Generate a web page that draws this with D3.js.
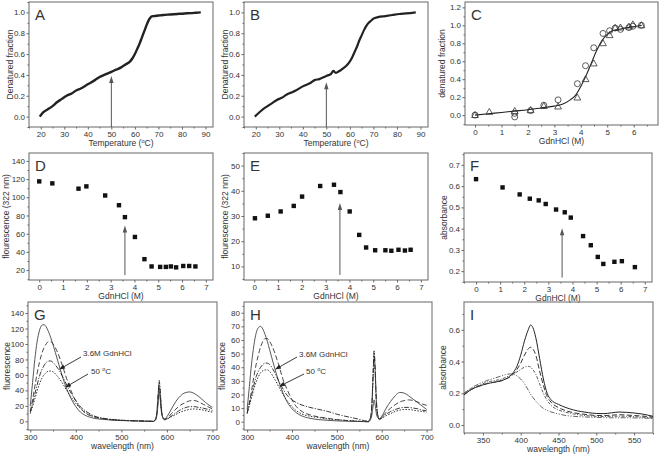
<!DOCTYPE html>
<html><head><meta charset="utf-8">
<script src="https://cdn.jsdelivr.net/npm/d3@7"></script>
<style>
body{margin:0;background:#fff}
svg{display:block}
text{font-family:"Liberation Sans",Arial,sans-serif;fill:#333}
</style>
</head><body>
<svg id="c" width="661" height="456"></svg>
<script>
// ---------- DATA ----------
// A: thermal denaturation
const tempA = [19.6,21,23,25,27,29,31,33,35,37,40,43,45,47,50,52,54,56,58,59,60,61,62,63,64,65,66,67,68,70,72,75,78,81,84,86,88];
const fracA = [0.0,0.04,0.07,0.1,0.14,0.17,0.2,0.22,0.25,0.27,0.31,0.35,0.38,0.4,0.43,0.45,0.47,0.5,0.53,0.56,0.6,0.65,0.7,0.76,0.82,0.88,0.93,0.96,0.965,0.97,0.975,0.98,0.985,0.99,0.993,0.997,1.0];
// B: thermal denaturation
const tempB = [19.6,21,23,25,27,29,31,33,35,37,40,43,45,47,50,52,53,54,55,57,59,60,61,62,63,64,65,66,67,68,69,70,72,75,78,81,84,88];
const fracB = [0.0,0.03,0.07,0.1,0.13,0.16,0.18,0.21,0.23,0.25,0.29,0.32,0.35,0.36,0.39,0.41,0.44,0.42,0.43,0.46,0.5,0.53,0.57,0.62,0.67,0.73,0.78,0.83,0.87,0.9,0.92,0.94,0.955,0.965,0.975,0.985,0.99,1.0];
// C: GdnHCl denaturation (circles, triangles, fit)
const gdnCirc = [0,1.5,1.5,2.1,2.6,3.14,3.87,4.18,4.49,4.84,5.09,5.3,5.5,5.82,5.97,6.29];
const fracCirc = [0.0,0.02,-0.02,0.05,0.11,0.17,0.35,0.55,0.75,0.91,0.94,0.97,0.955,0.975,0.99,1.0];
const gdnTri = [0,0.54,1.5,2.1,2.6,3.14,3.87,4.18,4.49,4.84,5.09,5.3,5.5,5.82,5.97,6.29];
const fracTri = [0.0,0.035,0.045,0.055,0.1,0.095,0.195,0.4,0.575,0.8,0.89,0.97,0.975,0.985,1.01,1.0];
const gdnFit = [0,0.5,1,1.5,2,2.5,3,3.3,3.6,3.8,4.0,4.2,4.4,4.6,4.8,5.0,5.2,5.5,6.0,6.3];
const fracFit = [0.0,0.015,0.03,0.045,0.06,0.08,0.1,0.12,0.17,0.22,0.32,0.44,0.58,0.72,0.83,0.9,0.94,0.96,0.985,1.0];
// D, E, F: GdnHCl titrations
const gdnD = [0,0.55,1.65,1.98,2.77,3.35,3.6,4.02,4.42,4.72,5.08,5.32,5.53,5.75,6.05,6.3,6.56];
const fluD = [117.5,115.3,109.5,112,102,91.3,78.2,56.4,32,24,23.5,23.5,24,23,24.5,24.5,24];
const gdnE = [0.03,0.57,1.11,1.66,2.01,2.77,3.35,3.62,4.01,4.41,4.7,5.08,5.51,5.76,6.06,6.33,6.57];
const fluE = [29.1,30.1,31.8,34,37.7,41.9,42.4,39.5,31.8,22.5,17.5,16.4,16.4,16.2,16.6,16.3,16.6];
const gdnF = [0,1.1,1.81,2.23,2.6,2.89,3.32,3.68,3.93,4.44,4.76,5.05,5.28,5.74,6.05,6.59];
const absF = [0.633,0.594,0.561,0.541,0.533,0.516,0.49,0.477,0.452,0.365,0.322,0.267,0.234,0.244,0.247,0.219];
// arrows [x, yStart, yTip]
const arrowA = [50,-0.1,0.39];
const arrowB = [50,-0.1,0.33];
const arrowD = [3.6,14.5,69];
const arrowE = [3.6,6.6,35.2];
const arrowF = [3.57,0.17,0.402];
// G, H: fluorescence spectra
const wlGH = [300,305,310,315,320,325,330,335,340,345,350,360,370,380,390,400,410,420,440,460,480,500,540,570,575,578,581,583,585,588,591,595,600,610,620,630,640,650,660,670,680,690,700];
const gSolid = [20,50,80,103,117,124,125,122,116,108,99,79,59,42,29,19,12,8,4,2.5,1.5,1,0.3,0,2,8,25,38,30,12,5,3,6,16,26,33,37,38,36,32,27,22,18];
const gDash = [13,28,45,62,76,87,95,100,103,103,100,89,73,55,39,26,17,11,6,3.5,2,1.3,0.5,0,2,10,32,45,36,14,5,3,4,10,16,21,24,26.5,27,25,22,19,16];
const gDashDot = [12,23,35,47,58,66,72,76,78,78,76,69,59,47,36,27,19,14,7,4,2.5,1.5,0.5,0,3,12,38,53,42,16,5,2,3,7,11,15,17.5,19,19,18,17,15.5,14];
const gDot = [10,19,29,39,48,55,60,63,65,65,64,58,50,40,31,23,17,12,6,3.5,2,1.3,0.5,0,3,11,36,50,40,15,5,2,3,6,9,12,14,15.5,16,15.5,14.5,13,12];
const hSolid = [9,26,43,56,65,69,70,68,64,59,53,41,30,21,14,9.5,6.5,4.5,2.5,1.5,1,0.6,0.2,0,1.5,5,12,16,13,6,3,2,4,10,15,19,21.5,21,19,16.5,14,11.5,9];
const hDash = [7,14,23,33,42,49,55,59,61,61,59,52,42,31,23,16,11,8,5,3.5,2.5,1.5,0.5,0,3,12,36,50,40,15,5,2,3.5,7,10,12.5,14.5,15.5,16,15.5,14.5,13,12];
const hDashDot = [6,13,20,27,33,37,40,42,43,43,42,37,30,24,19,16,14,12.5,10.5,9,7.5,5.5,2.5,0.5,3,13,38,52,42,16,5,1.5,3,5.5,7.5,9,10,10.5,10.5,10,9.5,8.5,8];
const hDot = [6,12,18,24,29,33,36,37.5,38,38,37,32,26,20,15,11,8,6,4,3,2,1.5,0.5,0,3,11,34,48,38,14,5,1.5,2.5,4.5,6,7.5,8.5,9,9,8.5,8,7.5,7];
// I: absorbance spectra
const wlI = [325,335,345,355,365,375,380,385,390,395,400,405,410,413,416,420,425,430,435,440,450,460,470,480,490,500,510,520,530,540,550,560,575];
const iSolid = [0.19,0.225,0.245,0.26,0.27,0.28,0.29,0.305,0.33,0.37,0.44,0.53,0.6,0.63,0.615,0.55,0.42,0.29,0.2,0.16,0.13,0.11,0.095,0.085,0.078,0.073,0.072,0.077,0.082,0.08,0.076,0.07,0.055];
const iDash = [0.19,0.225,0.245,0.26,0.27,0.28,0.29,0.3,0.32,0.35,0.39,0.44,0.48,0.49,0.48,0.44,0.34,0.25,0.18,0.145,0.11,0.09,0.078,0.07,0.065,0.06,0.06,0.062,0.065,0.063,0.06,0.057,0.05];
const iDot = [0.2,0.23,0.25,0.27,0.28,0.29,0.3,0.31,0.32,0.335,0.35,0.365,0.37,0.365,0.35,0.32,0.26,0.2,0.155,0.125,0.095,0.08,0.07,0.063,0.058,0.055,0.054,0.055,0.056,0.055,0.053,0.05,0.045];
const iDashDot = [0.2,0.235,0.26,0.28,0.295,0.31,0.318,0.322,0.32,0.31,0.29,0.26,0.22,0.195,0.175,0.15,0.125,0.105,0.092,0.083,0.07,0.06,0.055,0.052,0.05,0.048,0.047,0.046,0.046,0.046,0.045,0.044,0.042];
// tick labels
const ticksTemp = [20,30,40,50,60,70,80,90];
const ticksFrac = [0.0,0.2,0.4,0.6,0.8,1.0];
const ticksFracC = [0.0,0.2,0.4,0.6,0.8,1.0,1.2];
const ticksGdnC = [0,1,2,3,4,5,6];
const ticksGdn = [0,1,2,3,4,5,6,7];
const ticksFluD = [20,40,60,80,100,120,140];
const ticksFluE = [10,20,30,40,50];
const ticksAbsF = [0.2,0.3,0.4,0.5,0.6,0.7];
const ticksWl = [300,400,500,600,700];
const ticksFluG = [0,20,40,60,80,100,120,140];
const ticksFluH = [0,10,20,30,40,50,60,70,80];
const ticksWlI = [350,400,450,500,550];
const ticksAbsI = [0.0,0.2,0.4,0.6];

// ---------- DRAW ----------
const svg = d3.select("#c");
const AX = "#666", INK = "#333";
const TICK = 2.5, PAD = 1.5;

function minorVals(major, step, dom) {
  const out = [];
  const lo = Math.min(dom[0], dom[1]), hi = Math.max(dom[0], dom[1]);
  const s = Math.min(...major) - step * 20;
  for (let v = s; v <= hi + 1e-9; v += step) {
    if (v >= lo - 1e-9 && !major.some(m => Math.abs(m - v) < 1e-6)) out.push(+v.toFixed(6));
  }
  return out;
}

function panel(c) {
  const x = d3.scaleLinear().domain(c.xd).range([c.x0, c.x1]);
  const y = d3.scaleLinear().domain(c.yd).range([c.y1, c.y0]);
  const g = svg.append("g");
  g.append("g").attr("transform", `translate(0,${c.y1})`)
    .call(d3.axisBottom(x).tickValues(c.xt).tickSize(TICK).tickPadding(PAD).tickFormat(c.xf));
  g.append("g").attr("transform", `translate(0,${c.y1})`)
    .call(d3.axisBottom(x).tickValues(minorVals(c.xt, c.xm, c.xd)).tickSize(1.5).tickFormat(""));
  g.append("g").attr("transform", `translate(${c.x0},0)`)
    .call(d3.axisLeft(y).tickValues(c.yt).tickSize(TICK).tickPadding(PAD).tickFormat(c.yf));
  g.append("g").attr("transform", `translate(${c.x0},0)`)
    .call(d3.axisLeft(y).tickValues(minorVals(c.yt, c.ym, c.yd)).tickSize(1.5).tickFormat(""));
  g.selectAll(".domain").remove();
  g.selectAll(".tick line").attr("stroke", AX);
  g.selectAll(".tick text").attr("font-size", 8).attr("fill", INK)
    .style("font-family", '"Liberation Sans",Arial,sans-serif');
  g.append("rect").attr("x", c.x0).attr("y", c.y0).attr("width", c.x1 - c.x0).attr("height", c.y1 - c.y0)
    .attr("fill", "none").attr("stroke", AX).attr("stroke-width", 1);
  g.append("text").attr("x", c.x0 + 6).attr("y", c.y0 + 18).attr("font-size", 15).text(c.letter);
  const xt = g.append("text").attr("x", (c.x0 + c.x1) / 2).attr("y", c.y1 + 19).attr("text-anchor", "middle").attr("font-size", 8.5);
  if (c.xlabelSup) {
    xt.append("tspan").text(c.xlabel[0]);
    xt.append("tspan").attr("font-size", 5.5).attr("dy", -3.5).text("o");
    xt.append("tspan").attr("dy", 3.5).text(c.xlabel[1]);
  } else xt.text(c.xlabel);
  g.append("text").attr("transform", `translate(${c.ytx},${(c.y0 + c.y1) / 2}) rotate(-90)`)
    .attr("text-anchor", "middle").attr("dominant-baseline", "central").attr("font-size", 8.5).text(c.ylabel);
  return {x, y, g};
}

function arrow(p, a, color) {
  const [xv, y0v, y1v] = a;
  const X = p.x(xv), Y0 = p.y(y0v), Y1 = p.y(y1v);
  p.g.append("line").attr("x1", X).attr("x2", X).attr("y1", Y0).attr("y2", Y1 + 5)
    .attr("stroke", color).attr("stroke-width", 1);
  p.g.append("path").attr("d", `M${X},${Y1} L${X - 2.2},${Y1 + 7} L${X + 2.2},${Y1 + 7} Z`).attr("fill", color);
}

function curve(p, xs, ys, dash, w, col) {
  const line = d3.line().x(d => p.x(d[0])).y(d => p.y(d[1])).curve(d3.curveMonotoneX);
  p.g.append("path").datum(xs.map((v, i) => [v, ys[i]])).attr("d", line)
    .attr("fill", "none").attr("stroke", col || INK).attr("stroke-width", w || 0.9)
    .attr("stroke-dasharray", dash || null);
}

function squares(p, xs, ys) {
  p.g.selectAll(null).data(xs.map((v, i) => [v, ys[i]])).enter().append("rect")
    .attr("x", d => p.x(d[0]) - 2.2).attr("y", d => p.y(d[1]) - 2.2)
    .attr("width", 4.4).attr("height", 4.4).attr("fill", "#111");
}

const f1 = d3.format(".1f"), f0 = d3.format("d");

// A
const pA = panel({x0:29,x1:213,y0:2,y1:127,xd:[15,93.2],yd:[-0.1,1.1],xt:ticksTemp,xm:5,yt:ticksFrac,ym:0.1,
  xf:f0,yf:f1,letter:"A",xlabel:["Temperature (","C)"],xlabelSup:true,ylabel:"Denatured fraction",ytx:10});
curve(pA, tempA, fracA, null, 2.4, "#222");
arrow(pA, arrowA, "#555");
// B
const pB = panel({x0:244,x1:428,y0:2,y1:127,xd:[15,93.2],yd:[-0.1,1.1],xt:ticksTemp,xm:5,yt:ticksFrac,ym:0.1,
  xf:f0,yf:f1,letter:"B",xlabel:["Temperature (","C)"],xlabelSup:true,ylabel:"Denatured fraction",ytx:225});
curve(pB, tempB, fracB, null, 2.2, "#222");
arrow(pB, arrowB, "#555");
// C
const pC = panel({x0:465,x1:658,y0:2,y1:125,xd:[-0.38,6.92],yd:[-0.11,1.26],xt:ticksGdnC,xm:0.5,yt:ticksFracC,ym:0.1,
  xf:f0,yf:f1,letter:"C",xlabel:"GdnHCl (M)",ylabel:"denatured fraction",ytx:442});
curve(pC, gdnFit, fracFit, null, 1.1, "#222");
pC.g.selectAll(null).data(gdnCirc.map((v,i)=>[v,fracCirc[i]])).enter().append("circle")
  .attr("cx", d => pC.x(d[0])).attr("cy", d => pC.y(d[1])).attr("r", 3)
  .attr("fill", "none").attr("stroke", "#333").attr("stroke-width", 0.8);
pC.g.selectAll(null).data(gdnTri.map((v,i)=>[v,fracTri[i]])).enter().append("path")
  .attr("d", d => { const X = pC.x(d[0]), Y = pC.y(d[1]); return `M${X},${Y-3.6} L${X+3.4},${Y+2.4} L${X-3.4},${Y+2.4} Z`; })
  .attr("fill", "none").attr("stroke", "#333").attr("stroke-width", 0.8);
// D
const pD = panel({x0:29,x1:213,y0:153,y1:280,xd:[-0.43,7.3],yd:[9.1,148.7],xt:ticksGdn,xm:0.5,yt:ticksFluD,ym:10,
  xf:f0,yf:f0,letter:"D",xlabel:"GdnHCl (M)",ylabel:"flourescence (322 nm)",ytx:6});
arrow(pD, arrowD, "#555");
squares(pD, gdnD, fluD);
// E
const pE = panel({x0:244,x1:428,y0:153,y1:280,xd:[-0.43,7.3],yd:[4.6,55],xt:ticksGdn,xm:0.5,yt:ticksFluE,ym:5,
  xf:f0,yf:f0,letter:"E",xlabel:"GdnHCl (M)",ylabel:"flourescence (322 nm)",ytx:224.5});
arrow(pE, arrowE, "#555");
squares(pE, gdnE, fluE);
// F
const pF = panel({x0:464,x1:652,y0:153,y1:282,xd:[-0.5,7.3],yd:[0.149,0.756],xt:ticksGdn,xm:0.5,yt:ticksAbsF,ym:0.05,
  xf:f0,yf:f1,letter:"F",xlabel:"GdnHCl (M)",ylabel:"absorbance",ytx:444});
arrow(pF, arrowF, "#555");
squares(pF, gdnF, absF);
// G
const pG = panel({x0:28,x1:217,y0:302,y1:430,xd:[295,710],yd:[-11.2,154.3],xt:ticksWl,xm:50,yt:ticksFluG,ym:10,
  xf:f0,yf:f0,letter:"G",xlabel:"wavelength (nm)",ylabel:"fluorescence",ytx:7});
curve(pG, wlGH, gSolid, null, 0.9, "#444");
curve(pG, wlGH, gDash, "5,2.5", 0.9, "#333");
curve(pG, wlGH, gDashDot, "5,1.5,1.2,1.5", 0.9, "#222");
curve(pG, wlGH, gDot, "1.5,1.5", 1.0, "#333");
// H
const pH = panel({x0:244,x1:432,y0:302,y1:430,xd:[293,712],yd:[-6.1,87.9],xt:ticksWl,xm:50,yt:ticksFluH,ym:5,
  xf:f0,yf:f0,letter:"H",xlabel:"wavelength (nm)",ylabel:"fluorescence",ytx:222});
curve(pH, wlGH, hSolid, null, 0.9, "#444");
curve(pH, wlGH, hDash, "5,2.5", 0.9, "#333");
curve(pH, wlGH, hDashDot, "5,1.5,1.2,1.5", 0.9, "#222");
curve(pH, wlGH, hDot, "1.5,1.5", 1.0, "#333");
// I
const pI = panel({x0:464,x1:653,y0:302,y1:433,xd:[325,575],yd:[-0.05,0.775],xt:ticksWlI,xm:25,yt:ticksAbsI,ym:0.1,
  xf:f0,yf:f1,letter:"I",xlabel:"wavelength (nm)",ylabel:"absorbance",ytx:443});
curve(pI, wlI, iSolid, null, 1.0, "#222");
curve(pI, wlI, iDash, "5,2.5", 1.0, "#333");
curve(pI, wlI, iDot, "3,1.5,1,1.5", 0.9, "#444");
curve(pI, wlI, iDashDot, "5,1.5,1.2,1.5,1.2,1.5", 0.9, "#555");

// annotations in G and H
function annot(p, tx, ty, arrows) {
  p.g.append("text").attr("x", tx[0]).attr("y", tx[1]).attr("font-size", 8).text("3.6M GdnHCl");
  const t2 = p.g.append("text").attr("x", ty[0]).attr("y", ty[1]).attr("font-size", 8);
  t2.append("tspan").text("50 ");
  t2.append("tspan").attr("font-size", 5.5).attr("dy", -3.5).text("o");
  t2.append("tspan").attr("dy", 3.5).text("C");
  arrows.forEach(a => {
    const [x1, y1, x2, y2] = a;
    const ang = Math.atan2(y2 - y1, x2 - x1);
    const L = 6, W = 2.2;
    const bx = x2 - L * Math.cos(ang), by = y2 - L * Math.sin(ang);
    p.g.append("line").attr("x1", x1).attr("y1", y1).attr("x2", bx).attr("y2", by).attr("stroke", "#222").attr("stroke-width", 0.9);
    p.g.append("path").attr("d", `M${x2},${y2} L${bx - W*Math.sin(ang)},${by + W*Math.cos(ang)} L${bx + W*Math.sin(ang)},${by - W*Math.cos(ang)} Z`).attr("fill", "#222");
  });
}
annot(pG, [83, 356], [91, 374], [[81, 357, 59, 369.5], [88, 374, 65, 387.5]]);
annot(pH, [299, 357], [306, 374], [[297, 357, 275, 369.5], [304, 374, 279, 386.5]]);
</script>
</body></html>
